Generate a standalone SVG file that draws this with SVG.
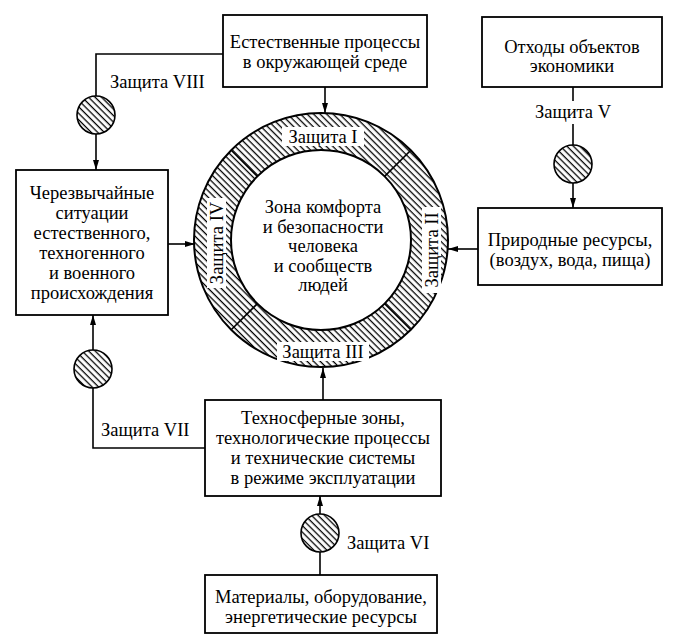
<svg xmlns="http://www.w3.org/2000/svg" width="694" height="641" viewBox="0 0 694 641">
<defs>
<style>
text{font-family:"Liberation Serif","Times New Roman",serif;font-size:18.5px;fill:#000}
.c{text-anchor:middle}
.box{fill:#fff;stroke:#000;stroke-width:1.8}
.ln{fill:none;stroke:#000;stroke-width:1.6}
.hc{fill:url(#h);stroke:#000;stroke-width:1.6}
.lbl{fill:#fff;stroke:none}
</style>
<pattern id="h" width="4.6" height="4.6" patternUnits="userSpaceOnUse" patternTransform="rotate(45)">
<line x1="0" y1="1.5" x2="4.6" y2="1.5" stroke="#000" stroke-width="1.3"/>
</pattern>
<marker id="a" viewBox="0 0 10 6" refX="10" refY="3" markerWidth="10" markerHeight="6" markerUnits="userSpaceOnUse" orient="auto">
<path d="M0,0 L10,3 L0,6 Z" fill="#000"/>
</marker>
</defs>
<rect width="694" height="641" fill="#fff"/>

<g id="connectors">
<polyline class="ln" points="223,54 96,54 96,96"/>
<line class="ln" x1="96" y1="134" x2="96" y2="170" marker-end="url(#a)"/>
<line class="ln" x1="325" y1="87" x2="325" y2="113" marker-end="url(#a)"/>
<line class="ln" x1="573" y1="87" x2="573" y2="101"/>
<line class="ln" x1="573" y1="124" x2="573" y2="145"/>
<line class="ln" x1="573" y1="183" x2="573" y2="208" marker-end="url(#a)"/>
<line class="ln" x1="478" y1="249" x2="448" y2="249" marker-end="url(#a)"/>
<line class="ln" x1="168" y1="244" x2="195" y2="244" marker-end="url(#a)"/>
<polyline class="ln" points="205,448 93,448 93,388"/>
<line class="ln" x1="93" y1="350" x2="93" y2="315" marker-end="url(#a)"/>
<line class="ln" x1="323" y1="400" x2="323" y2="368" marker-end="url(#a)"/>
<line class="ln" x1="320" y1="575" x2="320" y2="552"/>
<line class="ln" x1="320" y1="514" x2="320" y2="496" marker-end="url(#a)"/>
</g>

<g id="ring">
<path d="M194,240 A127,127 0 1,0 448,240 A127,127 0 1,0 194,240 Z M231,240 A90,90 0 1,1 411,240 A90,90 0 1,1 231,240 Z" fill="url(#h)" fill-rule="evenodd" stroke="#000" stroke-width="2"/>
<line class="ln" x1="384.6" y1="176.4" x2="410.8" y2="150.2"/>
<line class="ln" x1="257.4" y1="176.4" x2="231.2" y2="150.2"/>
<line class="ln" x1="384.6" y1="303.6" x2="410.8" y2="329.8"/>
<line class="ln" x1="257.4" y1="303.6" x2="231.2" y2="329.8"/>
<rect class="lbl" x="282" y="127" width="82" height="19"/>
<text class="c" x="323" y="143">Защита I</text>
<rect class="lbl" x="277" y="342" width="92" height="19"/>
<text class="c" x="323" y="358">Защита III</text>
<rect class="lbl" x="422" y="207" width="19" height="86"/>
<text class="c" transform="translate(432,250) rotate(-90)" x="0" y="6">Защита II</text>
<rect class="lbl" x="207" y="198" width="19" height="90"/>
<text class="c" transform="translate(217,243) rotate(-90)" x="0" y="6">Защита IV</text>
<text class="c" x="323" y="213">Зона комфорта</text>
<text class="c" x="323" y="233">и безопасности</text>
<text class="c" x="323" y="252">человека</text>
<text class="c" x="323" y="272">и сообществ</text>
<text class="c" x="323" y="291">людей</text>
</g>

<g id="natural">
<rect class="box" x="223" y="15" width="204" height="72"/>
<text class="c" x="325" y="48">Естественные процессы</text>
<text class="c" x="325" y="68">в окружающей среде</text>
</g>

<g id="waste">
<rect class="box" x="482" y="17" width="180" height="70"/>
<text class="c" x="572" y="53">Отходы объектов</text>
<text class="c" x="572" y="72">экономики</text>
</g>

<g id="resources">
<rect class="box" x="478" y="208" width="184" height="77"/>
<text class="c" x="570" y="246">Природные ресурсы,</text>
<text class="c" x="570" y="266">(воздух, вода, пища)</text>
</g>

<g id="emergency">
<rect class="box" x="16" y="170" width="152" height="145"/>
<text class="c" x="92" y="199">Черезвычайные</text>
<text class="c" x="92" y="219">ситуации</text>
<text class="c" x="92" y="239">естественного,</text>
<text class="c" x="92" y="259">техногенного</text>
<text class="c" x="92" y="279">и военного</text>
<text class="c" x="92" y="299">происхождения</text>
</g>

<g id="technosphere">
<rect class="box" x="205" y="400" width="236" height="96"/>
<text class="c" x="323" y="424">Техносферные зоны,</text>
<text class="c" x="323" y="444">технологические процессы</text>
<text class="c" x="323" y="464">и технические системы</text>
<text class="c" x="323" y="484">в режиме эксплуатации</text>
</g>

<g id="materials">
<rect class="box" x="205" y="575" width="232" height="58"/>
<text class="c" x="321" y="603">Материалы, оборудование,</text>
<text class="c" x="321" y="623">энергетические ресурсы</text>
</g>

<g id="protection-viii">
<circle class="hc" cx="96" cy="115" r="19"/>
<text x="110" y="88">Защита VIII</text>
</g>
<g id="protection-v">
<circle class="hc" cx="573" cy="164" r="19"/>
<text class="c" x="573" y="118">Защита V</text>
</g>
<g id="protection-vii">
<circle class="hc" cx="93" cy="369" r="19"/>
<text x="101" y="436">Защита VII</text>
</g>
<g id="protection-vi">
<circle class="hc" cx="320" cy="533" r="19"/>
<text x="347" y="549">Защита VI</text>
</g>
</svg>
